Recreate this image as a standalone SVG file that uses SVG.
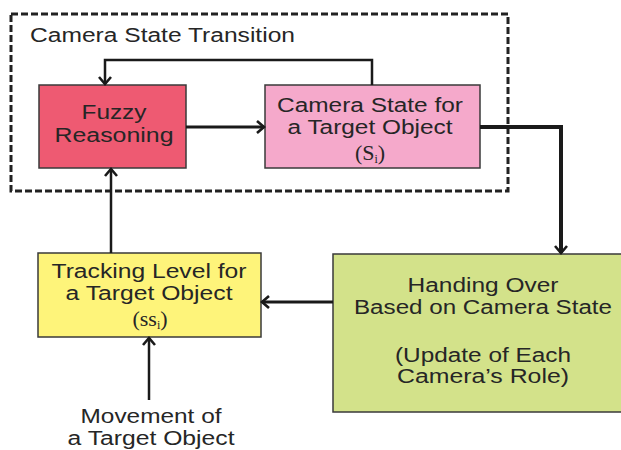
<svg xmlns="http://www.w3.org/2000/svg" width="621" height="450" viewBox="0 0 621 450">
  <style>
    .box { stroke: #3a3a3a; stroke-width: 1.5; }
    .lbl { font-family: "Liberation Sans", Arial, sans-serif; font-size: 19.5px; fill: #262626; text-anchor: middle; }
    .sym { font-family: "Liberation Serif", "Times New Roman", serif; font-size: 22px; fill: #262626; text-anchor: middle; }
    .wire { fill: none; stroke: #1a1a1a; stroke-linejoin: miter; }
  </style>
  <defs>
    <marker id="chev" viewBox="-10 -8 12 16" markerWidth="12" markerHeight="16" refX="0" refY="0" orient="auto" markerUnits="userSpaceOnUse">
      <path d="M -7,-6 L 0,0 L -7,6" fill="none" stroke="#1a1a1a" stroke-width="2.6"/>
    </marker>
  </defs>
  <rect width="621" height="450" fill="#ffffff"/>

  <!-- outer group: camera state transition -->
  <g id="transition">
    <rect x="11" y="14" width="497" height="177" fill="none" stroke="#222" stroke-width="3" stroke-dasharray="7,3"/>
    <text class="lbl" x="30" y="42" style="text-anchor:start" textLength="265" lengthAdjust="spacingAndGlyphs">Camera State Transition</text>
  </g>

  <g id="fuzzy">
    <rect class="box" x="39" y="85" width="147" height="83" fill="#ee5a72"/>
    <text class="lbl" x="114" y="119" textLength="65" lengthAdjust="spacingAndGlyphs">Fuzzy</text>
    <text class="lbl" x="114" y="142" textLength="119" lengthAdjust="spacingAndGlyphs">Reasoning</text>
  </g>

  <g id="camera-state">
    <rect class="box" x="265" y="85" width="215" height="83" fill="#f5a9cb"/>
    <text class="lbl" x="370" y="112" textLength="186" lengthAdjust="spacingAndGlyphs">Camera State for</text>
    <text class="lbl" x="370" y="134" textLength="165" lengthAdjust="spacingAndGlyphs">a Target Object</text>
    <text class="sym" x="370" y="160">(S<tspan font-size="12" dy="3">i</tspan><tspan dy="-3">)</tspan></text>
  </g>

  <g id="tracking">
    <rect class="box" x="38" y="253" width="223" height="84" fill="#fef47a"/>
    <text class="lbl" x="149" y="278" textLength="195" lengthAdjust="spacingAndGlyphs">Tracking Level for</text>
    <text class="lbl" x="149" y="300" textLength="167" lengthAdjust="spacingAndGlyphs">a Target Object</text>
    <text class="sym" x="150" y="326">(ss<tspan font-size="12" dy="3">i</tspan><tspan dy="-3">)</tspan></text>
  </g>

  <g id="handover">
    <rect class="box" x="333" y="254" width="292" height="158" fill="#d3e28a"/>
    <text class="lbl" x="483" y="292" textLength="151" lengthAdjust="spacingAndGlyphs">Handing Over</text>
    <text class="lbl" x="483" y="314" textLength="258" lengthAdjust="spacingAndGlyphs">Based on Camera State</text>
    <text class="lbl" x="483" y="362" textLength="176" lengthAdjust="spacingAndGlyphs">(Update of Each</text>
    <text class="lbl" x="483" y="383" textLength="172" lengthAdjust="spacingAndGlyphs">Camera’s Role)</text>
  </g>

  <g id="movement">
    <text class="lbl" x="151" y="423" textLength="141" lengthAdjust="spacingAndGlyphs">Movement of</text>
    <text class="lbl" x="151" y="445" textLength="167" lengthAdjust="spacingAndGlyphs">a Target Object</text>
  </g>

  <g id="connectors">
    <polyline class="wire" stroke-width="2.5" points="372,85 372,60 105,60 105,84" marker-end="url(#chev)"/>
    <line class="wire" stroke-width="3" x1="186" y1="127" x2="264" y2="127" marker-end="url(#chev)"/>
    <polyline class="wire" stroke-width="4" points="480,127 561,127 561,253" marker-end="url(#chev)"/>
    <line class="wire" stroke-width="3" x1="333" y1="302" x2="262" y2="302" marker-end="url(#chev)"/>
    <line class="wire" stroke-width="2.5" x1="111" y1="253" x2="111" y2="169" marker-end="url(#chev)"/>
    <line class="wire" stroke-width="2.5" x1="149" y1="400" x2="149" y2="338" marker-end="url(#chev)"/>
  </g>
</svg>
